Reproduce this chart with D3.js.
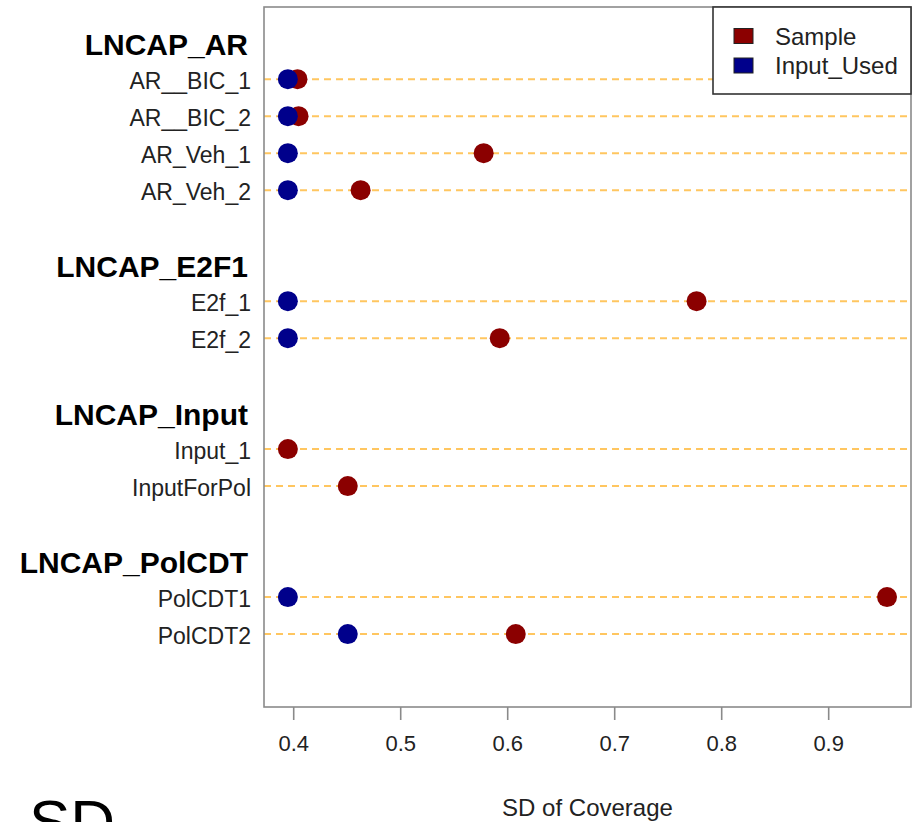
<!DOCTYPE html>
<html>
<head>
<meta charset="utf-8">
<script src="https://cdn.jsdelivr.net/npm/d3@7"></script>
<style>
  html, body { margin: 0; padding: 0; background: #ffffff; }
  svg { display: block; font-family: "Liberation Sans", Arial, sans-serif; }
</style>
</head>
<body>
<svg id="chart" width="915" height="822"></svg>
<script>
// ---- data ----
const groups = ["LNCAP_AR", "LNCAP_E2F1", "LNCAP_Input", "LNCAP_PolCDT"];
const groupSizes = [4, 2, 2, 2];
const samples = ["AR__BIC_1", "AR__BIC_2", "AR_Veh_1", "AR_Veh_2",
                 "E2f_1", "E2f_2",
                 "Input_1", "InputForPol",
                 "PolCDT1", "PolCDT2"];
const sampleSD = [0.404, 0.405, 0.578, 0.463, 0.777, 0.593, 0.395, 0.451, 0.955, 0.608];
const inputSD  = [0.395, 0.395, 0.395, 0.395, 0.395, 0.395, null, null, 0.395, 0.451];
const xTicks = [0.4, 0.5, 0.6, 0.7, 0.8, 0.9];
const legendLabels = ["Sample", "Input_Used"];
const seriesColors = ["#8b0000", "#00008b"];

// ---- layout ----
const svg = d3.select("#chart");
const plot = { left: 264, right: 911, top: 7, bottom: 707 };

// build row lines: header then items, blank line between groups
const rows = [];
let line = 0, k = 0;
groups.forEach((g, gi) => {
  rows.push({ type: "header", label: g, line: line });
  line++;
  for (let j = 0; j < groupSizes[gi]; j++) {
    rows.push({ type: "item", label: samples[k], line: line, s: sampleSD[k], inp: inputSD[k] });
    k++; line++;
  }
  line++;
});
const items = rows.filter(r => r.type === "item");
const headers = rows.filter(r => r.type === "header");

const x = d3.scaleLinear().domain([0.3727, 0.9774]).range([plot.left, plot.right]);
const y = d3.scaleLinear().domain([-0.95, 17.97]).range([plot.top, plot.bottom]);

// dashed guide lines
svg.append("g").selectAll("line").data(items).join("line")
  .attr("x1", plot.left).attr("x2", plot.right)
  .attr("y1", d => y(d.line)).attr("y2", d => y(d.line))
  .attr("stroke", "#ffc660").attr("stroke-width", 2)
  .attr("stroke-dasharray", "7,5");

// sample dots (red) then input dots (blue)
svg.append("g").selectAll("circle").data(items).join("circle")
  .attr("cx", d => x(d.s)).attr("cy", d => y(d.line)).attr("r", 10)
  .attr("fill", seriesColors[0]);
svg.append("g").selectAll("circle").data(items.filter(d => d.inp !== null)).join("circle")
  .attr("cx", d => x(d.inp)).attr("cy", d => y(d.line)).attr("r", 10)
  .attr("fill", seriesColors[1]);

// plot box
svg.append("rect")
  .attr("x", plot.left).attr("y", plot.top)
  .attr("width", plot.right - plot.left).attr("height", plot.bottom - plot.top)
  .attr("fill", "none").attr("stroke", "#8a8a8a").attr("stroke-width", 1.6);

// x axis
const axis = d3.axisBottom(x).tickValues(xTicks).tickSize(13).tickPadding(0)
  .tickFormat(d3.format(".1f"));
const ax = svg.append("g").attr("transform", `translate(0,${plot.bottom})`).call(axis);
ax.select(".domain").remove();
ax.selectAll(".tick line").attr("stroke", "#8a8a8a").attr("stroke-width", 1.6);
ax.selectAll(".tick text")
  .attr("y", 44).attr("dy", null)
  .attr("font-size", 22).attr("fill", "#222")
  .attr("font-family", "Liberation Sans, Arial, sans-serif");

// row labels
svg.append("g").selectAll("text").data(items).join("text")
  .attr("x", 251).attr("y", d => y(d.line) + 9.5)
  .attr("text-anchor", "end").attr("font-size", 23).attr("fill", "#222")
  .text(d => d.label);
svg.append("g").selectAll("text").data(headers).join("text")
  .attr("x", 248).attr("y", d => y(d.line) + 12.5)
  .attr("text-anchor", "end").attr("font-size", 30).attr("font-weight", "bold").attr("fill", "#000")
  .text(d => d.label);

// axis title
svg.append("text").attr("x", (plot.left + plot.right) / 2).attr("y", 816)
  .attr("text-anchor", "middle").attr("font-size", 24).attr("fill", "#222")
  .text("SD of Coverage");

// big "SD" text at bottom-left
svg.append("text").attr("x", 29).attr("y", 843)
  .attr("font-size", 62).attr("fill", "#000")
  .text("SD");

// legend
const leg = svg.append("g");
leg.append("rect").attr("x", 713).attr("y", 7).attr("width", 198).attr("height", 87)
  .attr("fill", "#fff").attr("stroke", "#333").attr("stroke-width", 1.6);
const legY = [36, 65.5];
legendLabels.forEach((lab, i) => {
  leg.append("rect").attr("x", 734).attr("y", legY[i] - 7.5).attr("width", 19).attr("height", 15)
    .attr("fill", seriesColors[i]).attr("stroke", "#222").attr("stroke-width", 1);
  leg.append("text").attr("x", 775).attr("y", legY[i] + 8.6)
    .attr("font-size", 24).attr("fill", "#222").text(lab);
});
</script>
</body>
</html>
